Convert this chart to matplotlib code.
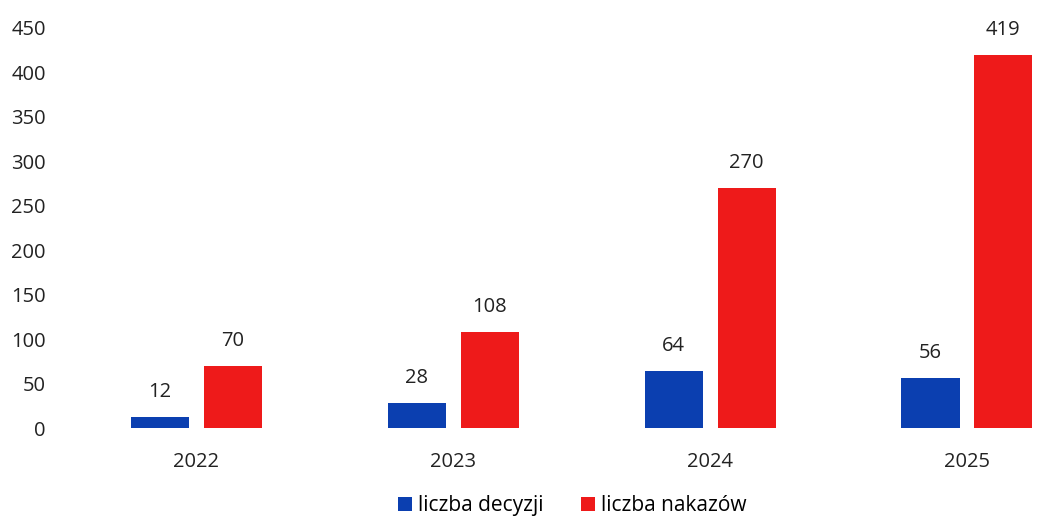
import matplotlib
matplotlib.use("Agg")
import matplotlib.pyplot as plt
import numpy as np

years = ["2022", "2023", "2024", "2025"]
decyzje = [12, 28, 64, 56]
nakazy = [70, 108, 270, 419]
series_names = ["liczba decyzji", "liczba nakazów"]
colors = ["#0B3FB0", "#EE1A1A"]

plt.rcParams['font.family'] = ['Open Sans', 'DejaVu Sans']

fig = plt.figure(figsize=(10.62, 5.17), dpi=100)
ax = fig.add_axes([0.064, 0.172, 0.936, 0.774])

x = np.arange(len(years))
off = 0.142
w = 0.226
b1 = ax.bar(x - off, decyzje, w, color=colors[0], label=series_names[0])
b2 = ax.bar(x + off, nakazy, w, color=colors[1], label=series_names[1])
for bars, vals in ((b1, decyzje), (b2, nakazy)):
    for r, v in zip(bars, vals):
        ax.annotate(str(v), (r.get_x() + r.get_width() / 2, v), xytext=(0, 11),
                    textcoords="offset points", ha="center", va="bottom",
                    fontsize=14.5, color="#222222")

ax.set_xlim(-0.5, 3.37)
ax.set_ylim(0, 450)
ax.set_yticks(range(0, 451, 50))
ax.set_xticks(x)
ax.set_xticklabels(years)
for s in ax.spines.values():
    s.set_visible(False)
ax.tick_params(axis='both', length=0, labelsize=14.5, colors="#222222")
ax.tick_params(axis='x', pad=17)
ax.tick_params(axis='y', pad=16)

leg = fig.legend(loc="lower center", bbox_to_anchor=(0.539, -0.035), ncol=2, frameon=False,
                 fontsize=15, handlelength=0.65, handleheight=0.65, handletextpad=0.3,
                 columnspacing=1.8)
fig.savefig("out.png", dpi=100)
